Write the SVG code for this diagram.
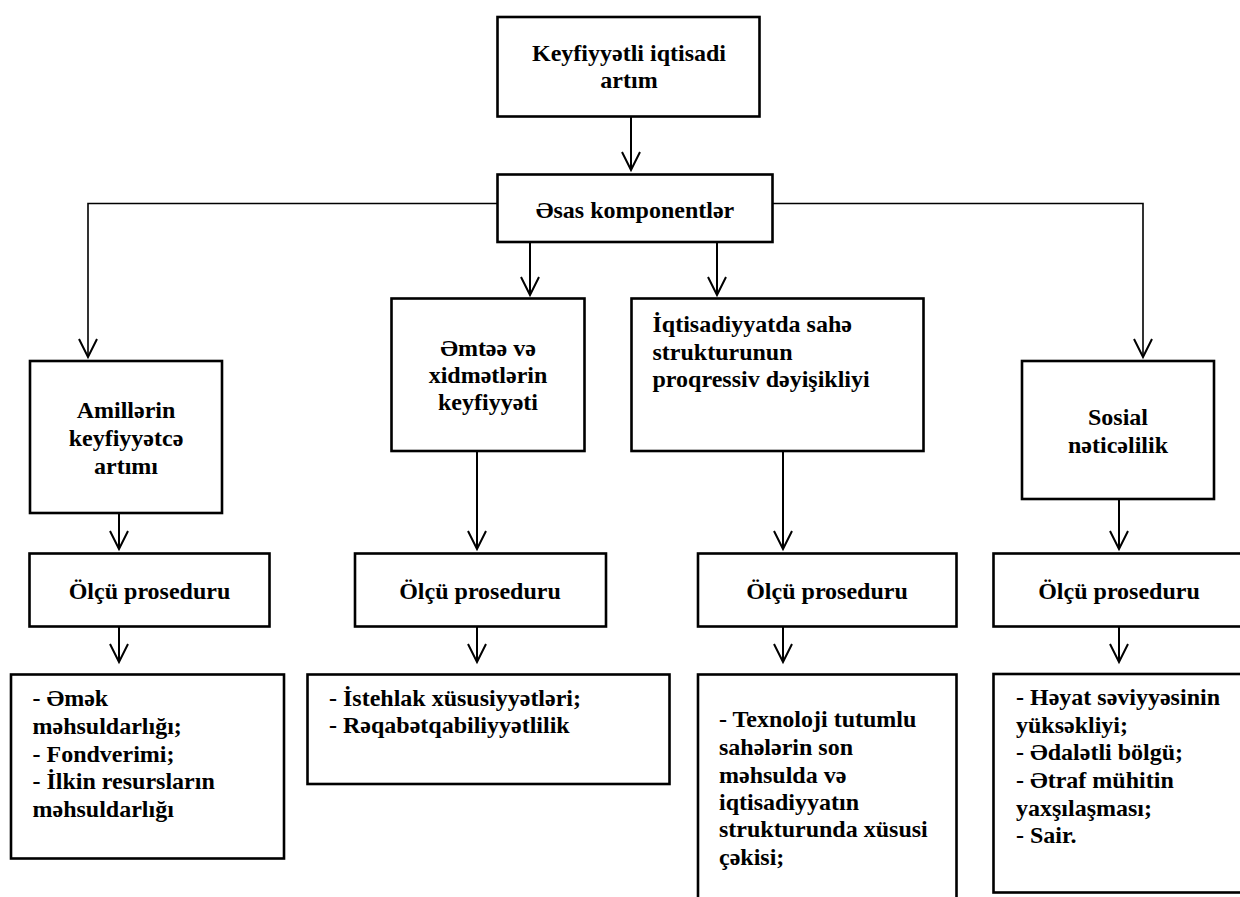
<svg xmlns="http://www.w3.org/2000/svg" width="1240" height="897" viewBox="0 0 1240 897">
<style>
.box{fill:#fff;stroke:#000;stroke-width:2.6}
.t{font-family:'Liberation Serif','Times New Roman',serif;font-weight:bold;font-size:24px;fill:#000}
.c{text-anchor:middle}
.ln{fill:none;stroke:#000;stroke-width:2}
.thin{fill:none;stroke:#000;stroke-width:1.6}
</style>
<defs>
<marker id="arr" markerUnits="userSpaceOnUse" markerWidth="24" markerHeight="24" viewBox="-21 -12 24 24" refX="0" refY="0" orient="auto">
<path d="M -18 -9 L 0 0 L -18 9" fill="none" stroke="#000" stroke-width="2"/>
</marker>
</defs>
<rect width="1240" height="897" fill="#fff"/>
<g id="connectors">
<path class="ln" d="M 631 117 V 170" marker-end="url(#arr)"/>
<path class="thin" d="M 497 203.5 H 88 V 357" marker-end="url(#arr)"/>
<path class="thin" d="M 773 203.5 H 1143 V 357" marker-end="url(#arr)"/>
<path class="ln" d="M 530 242 V 295" marker-end="url(#arr)"/>
<path class="ln" d="M 717 242 V 295" marker-end="url(#arr)"/>
<path class="ln" d="M 119 513 V 549" marker-end="url(#arr)"/>
<path class="ln" d="M 477 451 V 549" marker-end="url(#arr)"/>
<path class="ln" d="M 783 452 V 549" marker-end="url(#arr)"/>
<path class="ln" d="M 1119 499 V 549" marker-end="url(#arr)"/>
<path class="ln" d="M 119 627 V 662" marker-end="url(#arr)"/>
<path class="ln" d="M 477 627 V 662" marker-end="url(#arr)"/>
<path class="ln" d="M 783 627 V 662" marker-end="url(#arr)"/>
<path class="ln" d="M 1119 627 V 662" marker-end="url(#arr)"/>
</g>
<g id="node-top">
<rect class="box" x="497.5" y="17" width="262" height="99.5"/>
<text class="t c" x="629" y="61">Keyfiyyətli iqtisadi</text>
<text class="t c" x="629" y="88">artım</text>
</g>
<g id="node-esas">
<rect class="box" x="497.5" y="174.5" width="275" height="67.5"/>
<text class="t c" x="635" y="218">Əsas komponentlər</text>
</g>
<g id="node-amiller">
<rect class="box" x="30" y="361" width="192" height="152"/>
<text class="t c" x="126" y="418">Amillərin</text>
<text class="t c" x="126" y="446">keyfiyyətcə</text>
<text class="t c" x="126" y="474">artımı</text>
</g>
<g id="node-emtee">
<rect class="box" x="391.5" y="298.5" width="193" height="152.5"/>
<text class="t c" x="488" y="356">Əmtəə və</text>
<text class="t c" x="488" y="383">xidmətlərin</text>
<text class="t c" x="488" y="410">keyfiyyəti</text>
</g>
<g id="node-iqtisadiyyat">
<rect class="box" x="631.5" y="298.5" width="292" height="152.5"/>
<text class="t" x="652.5" y="332">İqtisadiyyatda sahə</text>
<text class="t" x="652.5" y="360">strukturunun</text>
<text class="t" x="652.5" y="387">proqressiv dəyişikliyi</text>
</g>
<g id="node-sosial">
<rect class="box" x="1022" y="361" width="192" height="138"/>
<text class="t c" x="1118" y="425">Sosial</text>
<text class="t c" x="1118" y="453">nəticəlilik</text>
</g>
<g id="node-olcu1">
<rect class="box" x="29.5" y="553.5" width="240" height="73"/>
<text class="t c" x="149.5" y="599">Ölçü proseduru</text>
</g>
<g id="node-olcu2">
<rect class="box" x="355" y="553.5" width="251" height="73"/>
<text class="t c" x="480" y="599">Ölçü proseduru</text>
</g>
<g id="node-olcu3">
<rect class="box" x="698" y="553.5" width="258.5" height="73"/>
<text class="t c" x="827" y="599">Ölçü proseduru</text>
</g>
<g id="node-olcu4">
<rect class="box" x="993.5" y="553.5" width="260" height="73"/>
<text class="t c" x="1119" y="599">Ölçü proseduru</text>
</g>
<g id="node-data1">
<rect class="box" x="11" y="674.5" width="273" height="184"/>
<text class="t" x="32.5" y="706">- Əmək</text>
<text class="t" x="32.5" y="734">məhsuldarlığı;</text>
<text class="t" x="32.5" y="762">- Fondverimi;</text>
<text class="t" x="32.5" y="789">- İlkin resursların</text>
<text class="t" x="32.5" y="817">məhsuldarlığı</text>
</g>
<g id="node-data2">
<rect class="box" x="307.5" y="674.5" width="362" height="109.5"/>
<text class="t" x="329" y="706">- İstehlak xüsusiyyətləri;</text>
<text class="t" x="329" y="733">- Rəqabətqabiliyyətlilik</text>
</g>
<g id="node-data3">
<rect class="box" x="698" y="674.5" width="258.5" height="240"/>
<text class="t" x="719" y="727">- Texnoloji tutumlu</text>
<text class="t" x="719" y="755">sahələrin son</text>
<text class="t" x="719" y="783">məhsulda və</text>
<text class="t" x="719" y="810">iqtisadiyyatın</text>
<text class="t" x="719" y="837">strukturunda xüsusi</text>
<text class="t" x="719" y="865">çəkisi;</text>
</g>
<g id="node-data4">
<rect class="box" x="993.5" y="674" width="260" height="218.5"/>
<text class="t" x="1016" y="705">- Həyat səviyyəsinin</text>
<text class="t" x="1016" y="733">yüksəkliyi;</text>
<text class="t" x="1016" y="760">- Ədalətli bölgü;</text>
<text class="t" x="1016" y="788">- Ətraf mühitin</text>
<text class="t" x="1016" y="816">yaxşılaşması;</text>
<text class="t" x="1016" y="843">- Sair.</text>
</g>
</svg>
